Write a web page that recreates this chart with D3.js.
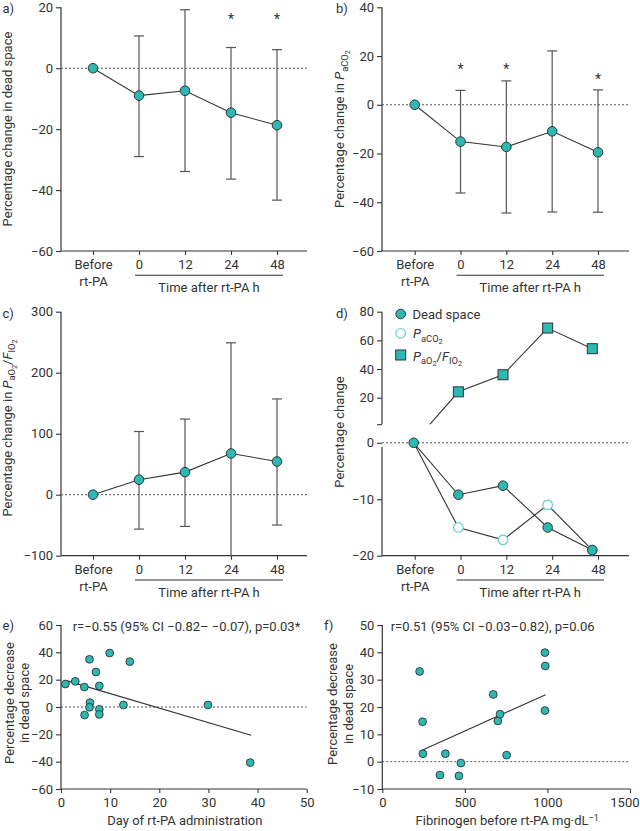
<!DOCTYPE html>
<html><head><meta charset="utf-8">
<script src="https://cdn.jsdelivr.net/npm/d3@7"></script>
<style>
body{margin:0;background:#fff}
svg text{font-family:Roboto,"Open Sans",sans-serif;fill:#333}
</style></head><body>
<svg id="c" width="640" height="831"></svg>
<script>
// ---------- data ----------
const categories = ["Before", "0", "12", "24", "48"];
// a) dead space
const deadSpaceMean = [0, -9.0, -7.4, -14.6, -18.7];
const deadSpaceLow  = [null, -29.0, -33.9, -36.4, -43.3];
const deadSpaceHigh = [null, 10.6, 19.2, 6.8, 6.1];
const deadSpaceStars = [null, null, null, 17, 17];
// b) PaCO2
const paco2Mean = [0, -15.1, -17.3, -10.9, -19.5];
const paco2Low  = [null, -36.2, -44.4, -44.0, -44.1];
const paco2High = [null, 5.9, 9.8, 22.1, 6.1];
const paco2Stars = [null, 15.6, 15.6, null, 11.5];
// c) PaO2/FIO2
const pfMean = [0, 24.6, 37, 67.6, 54.5];
const pfLow  = [null, -56.4, -52, -100, -49.7];
const pfHigh = [null, 103.6, 124, 249, 157];
// d) summary
const summaryDead  = [0, -9.2, -7.6, -15.0, -19.0];
const summaryPaco2 = [0, -15.0, -17.2, -11.0, -19.0];
const summaryPf    = [0, 24.1, 36, 68.6, 54.2];
// e) day of administration vs decrease
const dayX = [0.9, 2.9, 4.75, 5.8, 7.1, 7.8, 9.9, 14.0, 5.9, 5.8, 4.8, 7.8, 7.8, 12.7, 29.9, 38.5];
const dayY = [16.8, 18.8, 14.6, 34.9, 25.6, 15.4, 39.5, 33.2, 3.2, -0.2, -5.9, -1.7, -5.4, 1.5, 1.5, -40.7];
const dayFitX = [0.9, 38.7];
const dayFitY = [19.5, -20.7];
// f) fibrinogen vs decrease
const fibX = [226, 244, 246, 349, 382, 476, 464, 672, 700, 713, 753, 985, 987, 985];
const fibY = [33, 14.6, 2.9, -4.9, 2.9, -0.5, -5.2, 24.6, 14.9, 17.4, 2.4, 39.9, 35, 18.7];
const fibFitX = [234, 989];
const fibFitY = [4.0, 24.5];
// ticks
const ticksA = [-60, -40, -20, 0, 20];
const ticksB = [-60, -40, -20, 0, 20, 40];
const ticksC = [-100, 0, 100, 200, 300];
const ticksDUp = [1.5, 20, 40, 60, 80];
const ticksDLo = [-20, -10, 0];
const ticksEX = [0, 10, 20, 30, 40, 50];
const ticksEY = [-60, -40, -20, 0, 20, 40, 60];
const ticksFX = [0, 500, 1000, 1500];
const ticksFY = [-10, 0, 10, 20, 30, 40, 50];

// ---------- helpers ----------
const svg = d3.select("#c");
const TEAL = "#2cb8b3", DARK = "#333", ERR = "#555", OPEN = "#63cfcf";
const FS = 13;
const fmt = d3.format("d");

function rich(sel, segs, size) {
  let cur = 0;
  const sizes = [size, size * 0.72, size * 0.56];
  const offs = [0, size * 0.28, size * 0.46];
  segs.forEach(([t, lvl, it]) => {
    const dy = offs[lvl] - cur; cur = offs[lvl];
    sel.append("tspan").attr("dy", dy.toFixed(2)).attr("font-size", sizes[lvl])
      .attr("font-style", it ? "italic" : "normal").text(t);
  });
}
function styleAxis(g) {
  g.attr("font-family", null).attr("font-size", FS);
  g.select("path.domain").remove();
  g.selectAll(".tick line").attr("stroke", DARK).attr("stroke-width", 1.1);
  g.selectAll(".tick text").attr("fill", "#333");
}
function vline(x, y1, y2) {
  svg.append("line").attr("x1", x).attr("x2", x).attr("y1", y1).attr("y2", y2)
    .attr("stroke", DARK).attr("stroke-width", 1.2);
}
function hline(x1, x2, y) {
  svg.append("line").attr("x1", x1).attr("x2", x2).attr("y1", y).attr("y2", y)
    .attr("stroke", DARK).attr("stroke-width", 1.2);
}
function dotted(x1, x2, y) {
  svg.append("line").attr("x1", x1).attr("x2", x2).attr("y1", y).attr("y2", y)
    .attr("stroke", "#555").attr("stroke-width", 1).attr("stroke-dasharray", "2,2");
}
function letter(t, x, y) {
  svg.append("text").attr("x", x).attr("y", y).attr("font-size", FS).text(t);
}
function yLabel(x, y, segs) {
  const t = svg.append("text").attr("transform", `translate(${x},${y}) rotate(-90)`)
    .attr("text-anchor", "middle").attr("font-size", FS);
  rich(t, segs, FS);
}
function timeXAxis(xLab, axisY, ax0, ax1) {
  const gx = svg.append("g").attr("transform", `translate(0,${axisY})`)
    .call(d3.axisBottom(xLab).tickSize(4).tickPadding(5));
  styleAxis(gx);
  const bt = gx.selectAll(".tick text").filter(d => d === "Before");
  bt.text(null);
  bt.append("tspan").attr("x", 0).text("Before");
  bt.append("tspan").attr("x", 0).attr("dy", "1.28em").text("rt-PA");
  hline(ax0, ax1, axisY);
  svg.append("line").attr("x1", xLab("0") - 4).attr("x2", xLab("48") + 6)
    .attr("y1", axisY + 24.3).attr("y2", axisY + 24.3).attr("stroke", DARK).attr("stroke-width", 1.1);
  svg.append("text").attr("x", (xLab("0") + xLab("48")) / 2 + 1).attr("y", axisY + 41)
    .attr("text-anchor", "middle").attr("font-size", FS).text("Time after rt-PA h");
}

function timePanel(p) {
  const x = d3.scalePoint().domain(categories).range(p.px);
  const y = d3.scaleLinear().domain(p.yd).range(p.yr);
  const gy = svg.append("g").attr("transform", `translate(${p.ax0},0)`)
    .call(d3.axisLeft(y).tickValues(p.ticks).tickSize(5).tickPadding(3).tickFormat(fmt));
  styleAxis(gy);
  vline(p.ax0, p.yr[0], p.yr[1]);
  timeXAxis(x, p.yr[0], p.ax0, p.ax1);
  dotted(p.ax0, p.ax1, y(0));
  const idx = d3.range(categories.length);
  // error bars
  const eb = svg.append("g").attr("stroke", ERR).attr("stroke-width", 1.2);
  idx.filter(i => p.low[i] !== null).forEach(i => {
    const cx = x(categories[i]);
    eb.append("line").attr("x1", cx).attr("x2", cx).attr("y1", y(p.low[i])).attr("y2", y(p.high[i]));
    eb.append("line").attr("x1", cx - 5).attr("x2", cx + 5).attr("y1", y(p.high[i])).attr("y2", y(p.high[i]));
    if (p.low[i] > p.yd[0])
      eb.append("line").attr("x1", cx - 5).attr("x2", cx + 5).attr("y1", y(p.low[i])).attr("y2", y(p.low[i]));
  });
  svg.append("path").datum(idx)
    .attr("d", d3.line().x(i => x(categories[i])).y(i => y(p.mean[i])))
    .attr("fill", "none").attr("stroke", DARK).attr("stroke-width", 1.1);
  svg.append("g").selectAll("circle").data(idx).join("circle")
    .attr("cx", i => x(categories[i])).attr("cy", i => y(p.mean[i])).attr("r", 4.8)
    .attr("fill", TEAL).attr("stroke", DARK).attr("stroke-width", 1);
  svg.append("g").selectAll("text").data(idx.filter(i => p.stars[i] !== null)).join("text")
    .attr("x", i => x(categories[i])).attr("y", i => y(p.stars[i])).attr("dy", "0.55em")
    .attr("text-anchor", "middle").attr("font-size", 14).text("*");
  yLabel(p.lx, p.ly, p.label);
  letter(p.letter, p.lpx, p.lpy);
}

// a)
timePanel({px: [93, 277], ax0: 61, ax1: 307, yd: [-60, 20], yr: [251, 7.3], ticks: ticksA,
  mean: deadSpaceMean, low: deadSpaceLow, high: deadSpaceHigh, stars: deadSpaceStars,
  lx: 11.5, ly: 129, label: [["Percentage change in dead space", 0, false]],
  letter: "a)", lpx: 2.5, lpy: 12.5});
// b)
timePanel({px: [414.7, 598], ax0: 382, ax1: 629, yd: [-60, 40], yr: [251, 7.3], ticks: ticksB,
  mean: paco2Mean, low: paco2Low, high: paco2High, stars: paco2Stars,
  lx: 344, ly: 129, label: [["Percentage change in ", 0, false], ["P", 0, true], ["aCO", 1, false], ["2", 2, false]],
  letter: "b)", lpx: 336, lpy: 12.5});
// c)
timePanel({px: [93, 277], ax0: 61, ax1: 307, yd: [-100, 300], yr: [555.7, 311.7], ticks: ticksC,
  mean: pfMean, low: pfLow, high: pfHigh, stars: [null, null, null, null, null],
  lx: 11.5, ly: 428, label: [["Percentage change in ", 0, false], ["P", 0, true], ["aO", 1, false], ["2", 2, false],
    ["/", 0, false], ["F", 0, true], ["IO", 1, false], ["2", 2, false]],
  letter: "c)", lpx: 2.5, lpy: 318});

// d) summary, broken axis
(function () {
  const ax0 = 382, ax1 = 629, axisY = 555.7;
  const xLab = d3.scalePoint().domain(categories).range([414.7, 598]);
  const xd = d3.scalePoint().domain(categories).range([413.7, 592.3]);
  const yUp = d3.scaleLinear().domain([20, 80]).range([397.7, 311.7]);
  const yLo = d3.scaleLinear().domain([-20, 0]).range([555.7, 442.8]);
  const gu = svg.append("g").attr("transform", `translate(${ax0},0)`)
    .call(d3.axisLeft(yUp).tickValues(ticksDUp).tickSize(5).tickPadding(3).tickFormat(d => d === 1.5 ? "" : fmt(d)));
  styleAxis(gu);
  vline(ax0, yUp(80), yUp(1.5));
  const gl = svg.append("g").attr("transform", `translate(${ax0},0)`)
    .call(d3.axisLeft(yLo).tickValues(ticksDLo).tickSize(5).tickPadding(3).tickFormat(fmt));
  styleAxis(gl);
  vline(ax0, yLo(-0.7), yLo(-20));
  timeXAxis(xLab, axisY, ax0, ax1);
  dotted(ax0, ax1, yLo(0));
  const idx = d3.range(categories.length);
  // PaO2/FIO2 line (starts from the common baseline point, visible only in upper segment)
  svg.append("clipPath").attr("id", "upclip").append("rect")
    .attr("x", ax0).attr("y", 0).attr("width", 640 - ax0).attr("height", yUp(1.5));
  const pfPt = i => [xd(categories[i]), i === 0 ? yLo(summaryPf[i]) : yUp(summaryPf[i])];
  svg.append("path").datum(idx).attr("clip-path", "url(#upclip)")
    .attr("d", d3.line().x(i => pfPt(i)[0]).y(i => pfPt(i)[1]))
    .attr("fill", "none").attr("stroke", DARK).attr("stroke-width", 1.1);
  const lineLo = arr => d3.line().x(i => xd(categories[i])).y(i => yLo(arr[i]));
  svg.append("path").datum(idx).attr("d", lineLo(summaryPaco2))
    .attr("fill", "none").attr("stroke", DARK).attr("stroke-width", 1.1);
  svg.append("path").datum(idx).attr("d", lineLo(summaryDead))
    .attr("fill", "none").attr("stroke", DARK).attr("stroke-width", 1.1);
  svg.append("g").selectAll("circle").data(idx.slice(1)).join("circle")
    .attr("cx", i => xd(categories[i])).attr("cy", i => yLo(summaryPaco2[i])).attr("r", 4.8)
    .attr("fill", "#fff").attr("stroke", OPEN).attr("stroke-width", 1.2);
  svg.append("g").selectAll("circle").data(idx).join("circle")
    .attr("cx", i => xd(categories[i])).attr("cy", i => yLo(summaryDead[i])).attr("r", 4.8)
    .attr("fill", TEAL).attr("stroke", DARK).attr("stroke-width", 1);
  svg.append("g").selectAll("rect").data(idx.slice(1)).join("rect")
    .attr("x", i => xd(categories[i]) - 5).attr("y", i => yUp(summaryPf[i]) - 5)
    .attr("width", 10).attr("height", 10)
    .attr("fill", TEAL).attr("stroke", DARK).attr("stroke-width", 1);
  // legend
  const lg = svg.append("g");
  lg.append("circle").attr("cx", 400.7).attr("cy", 314).attr("r", 4.8).attr("fill", TEAL).attr("stroke", DARK);
  lg.append("text").attr("x", 412.5).attr("y", 318.7).attr("font-size", FS).text("Dead space");
  lg.append("circle").attr("cx", 400.7).attr("cy", 333.3).attr("r", 4.8).attr("fill", "#fff").attr("stroke", OPEN).attr("stroke-width", 1.2);
  rich(lg.append("text").attr("x", 413).attr("y", 338.3).attr("font-size", FS),
    [["P", 0, true], ["aCO", 1, false], ["2", 2, false]], FS);
  lg.append("rect").attr("x", 395.7).attr("y", 350).attr("width", 10).attr("height", 10).attr("fill", TEAL).attr("stroke", DARK);
  rich(lg.append("text").attr("x", 413).attr("y", 360.5).attr("font-size", FS),
    [["P", 0, true], ["aO", 1, false], ["2", 2, false], ["/", 0, false], ["F", 0, true], ["IO", 1, false], ["2", 2, false]], FS);
  yLabel(344, 432, [["Percentage change", 0, false]]);
  letter("d)", 336, 318);
})();

// e, f scatter panels
function scatterPanel(p) {
  const x = d3.scaleLinear().domain(p.xd).range(p.xr);
  const y = d3.scaleLinear().domain(p.yd).range(p.yr);
  const gy = svg.append("g").attr("transform", `translate(${p.xr[0]},0)`)
    .call(d3.axisLeft(y).tickValues(p.yt).tickSize(5).tickPadding(3).tickFormat(fmt));
  styleAxis(gy);
  vline(p.xr[0], p.yr[0], p.yr[1]);
  const gx = svg.append("g").attr("transform", `translate(0,${p.yr[0]})`)
    .call(d3.axisBottom(x).tickValues(p.xt).tickSize(4).tickPadding(5).tickFormat(fmt));
  styleAxis(gx);
  // keep the last tick label inside the page
  gx.selectAll(".tick text").filter(d => x(d) + 14 > 640)
    .attr("text-anchor", "end").attr("x", 639 - x(p.xt[p.xt.length - 1]));
  hline(p.xr[0], p.xr[1], p.yr[0]);
  dotted(p.xr[0], p.xr[1], y(0));
  svg.append("line").attr("x1", x(p.fx[0])).attr("x2", x(p.fx[1]))
    .attr("y1", y(p.fy[0])).attr("y2", y(p.fy[1])).attr("stroke", DARK).attr("stroke-width", 1.1);
  svg.append("g").selectAll("circle").data(p.px).join("circle")
    .attr("cx", d => x(d)).attr("cy", (d, i) => y(p.py[i])).attr("r", 3.9)
    .attr("fill", TEAL).attr("stroke", DARK).attr("stroke-width", 0.9);
  svg.append("text").attr("x", p.ax).attr("y", 631).attr("font-size", FS).text(p.anno);
  const xl = svg.append("text").attr("x", (p.xr[0] + p.xr[1]) / 2 + 1).attr("y", 825)
    .attr("text-anchor", "middle").attr("font-size", FS);
  rich2(xl, p.xlab);
  yLabel(p.l1x, p.ly, [["Percentage decrease", 0, false]]);
  yLabel(p.l2x, p.ly, [["in dead space", 0, false]]);
  letter(p.letter, p.lpx, 630);
}
function rich2(sel, segs) {
  segs.forEach(([t, sup]) => {
    if (sup) sel.append("tspan").attr("dy", -4.5).attr("font-size", 9).text(t);
    else sel.append("tspan").text(t);
  });
}
scatterPanel({xd: [0, 50], xr: [61, 306.7], yd: [-60, 60], yr: [789, 625], xt: ticksEX, yt: ticksEY,
  px: dayX, py: dayY, fx: dayFitX, fy: dayFitY,
  anno: "r=\u22120.55 (95% CI \u22120.82\u2013 \u22120.07), p=0.03*", ax: 72.7,
  xlab: [["Day of rt-PA administration", false]], l1x: 13.5, l2x: 28.5, ly: 703, letter: "e)", lpx: 2.5});
scatterPanel({xd: [0, 1500], xr: [382.3, 630], yd: [-10, 50], yr: [789, 625], xt: ticksFX, yt: ticksFY,
  px: fibX, py: fibY, fx: fibFitX, fy: fibFitY,
  anno: "r=0.51 (95% CI \u22120.03\u20130.82), p=0.06", ax: 390.7,
  xlab: [["Fibrinogen before rt-PA mg\u00b7dL", false], ["\u22121", true]], l1x: 336.8, l2x: 352.5, ly: 704, letter: "f)", lpx: 324});
</script>
</body></html>
